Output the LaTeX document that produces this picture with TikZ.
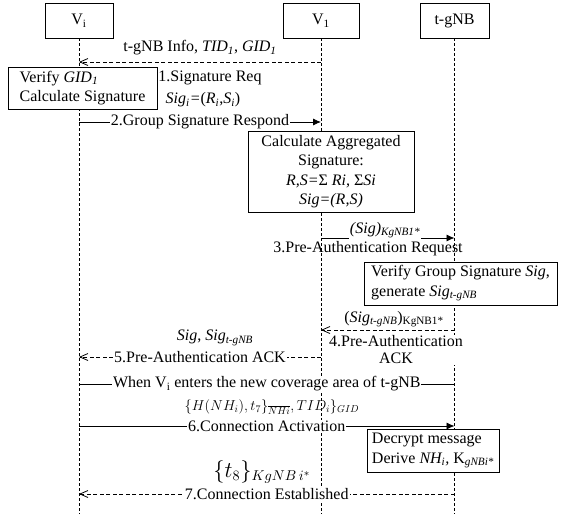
\documentclass[tikz,border=0pt]{standalone}
\usepackage{fontspec}
\setmainfont{Liberation Serif}
\usetikzlibrary{arrows.meta}

\tikzset{
  actor/.style={draw, line width=0.9pt, fill=white, minimum height=35pt},
  life/.style={line width=0.7pt, dash pattern=on 3pt off 2pt},
  act/.style={draw, line width=0.8pt, fill=white, align=left, inner xsep=5pt},
  msg/.style={line width=0.8pt, -{Latex[length=8pt,width=7pt]}},
  reply/.style={line width=0.8pt, dash pattern=on 4pt off 2.5pt, -{Straight Barb[length=8pt,width=7pt]}},
  lbl/.style={fill=white, inner xsep=1pt, inner ysep=1pt}
}

\begin{document}
\begin{tikzpicture}[x=1pt, y=-1pt, font=\fontsize{16}{19.5}\selectfont]
  \useasboundingbox (0,0) rectangle (561,514);
  % actors
  \node[actor, minimum width=68pt] (vi) at (79,20.5) {V\textsubscript{i}};
  \node[actor, minimum width=76pt] (v1) at (321,20.5) {V\textsubscript{1}};
  \node[actor, minimum width=69pt] (tg) at (454.5,20.5) {t-gNB};
  \coordinate (bot) at (0,514);
  \foreach \n in {vi,v1,tg}
    \draw[life] (\n.south) -- (\n.south |- bot);

  % rows of the messages
  \coordinate (r1) at (0,62);
  \coordinate (r2) at (0,122);
  \coordinate (r3) at (0,238);
  \coordinate (r4) at (0,330);
  \coordinate (r5) at (0,357);
  \coordinate (r6) at (0,384);
  \coordinate (r7) at (0,426);
  \coordinate (r8) at (0,494);

  % local steps
  \node[act, minimum width=149pt, minimum height=42pt, inner xsep=9pt] (verify) at (82.5,88)
    {Verify \textit{GID\textsubscript{1}}\\Calculate Signature};
  \node[act, align=center, minimum width=166pt, minimum height=81pt] (aggr) at (331,171.5)
    {Calculate Aggregated\\Signature:\\\textit{R,S=}Σ \textit{Ri,} Σ\textit{Si}\\\textit{Sig=(R,S)}};
  \node[act, minimum width=193pt, minimum height=43pt] (vgs) at (460.5,283.5)
    {Verify Group Signature \textit{Sig},\\generate \textit{Sig\textsubscript{t-gNB}}};
  \node[act, minimum width=132pt, minimum height=43pt] (decr) at (433,450.5)
    {Decrypt message\\Derive \textit{NH\textsubscript{i},} K\textsubscript{\textit{gNBi*}}};

  % 1
  \draw[reply] (v1 |- r1) -- (vi |- r1);
  \node (m1) at (200,48) {t-gNB Info, \textit{TID\textsubscript{1}}, \textit{GID\textsubscript{1}}};
  \node (n1) at (210,78) {1.Signature Req};
  \node (s2) at (203,100) {\textit{Sig\textsubscript{i}=}(\textit{R\textsubscript{i}},\textit{S\textsubscript{i}})};
  % 2
  \draw[msg] (vi |- r2) -- node[lbl] {2.Group Signature Respond} (v1 |- r2);
  % 3
  \draw[msg] (v1 |- r3) -- node[lbl, pos=0.48, yshift=8pt] {\textit{(Sig)\textsubscript{KgNB1*}}} (tg |- r3);
  \node (n3) at (368,249) {3.Pre-Authentication Request};
  % 4
  \draw[reply] (tg |- r4) -- (v1 |- r4);
  \node (m4) at (394,319) {(\textit{Sig\textsubscript{t-gNB}})\textsubscript{KgNB1*}};
  \node[lbl, align=center, font=\fontsize{16}{17}\selectfont] (n4) at (396,350) {4.Pre-Authentication\\ACK};
  % 5
  \draw[reply] (v1 |- r5) -- node[lbl] {5.Pre-Authentication ACK} (vi |- r5);
  \node (m5) at (215,338) {\textit{Sig}, \textit{Sig\textsubscript{t-gNB}}};
  % handover
  \draw[line width=0.8pt] (vi |- r6) -- node[lbl] {When V\textsubscript{i} enters the new coverage area of t-gNB} (tg |- r6);
  % 6
  \node[font=\fontsize{14}{16}\selectfont] (m6) at (272,407) {$\{H(NH_i),t_7\}_{\overline{NHi}},TID_i\}_{GID}$};
  \draw[msg] (vi |- r7) -- node[lbl] {6.Connection Activation} (tg |- r7);
  % 7
  \node[scale=1.3] (m7) at (262,472) {$\{t_8\}_{KgNB\,i^*}$};
  \draw[reply] (tg |- r8) -- node[lbl] {7.Connection Established} (vi |- r8);
\end{tikzpicture}
\end{document}
